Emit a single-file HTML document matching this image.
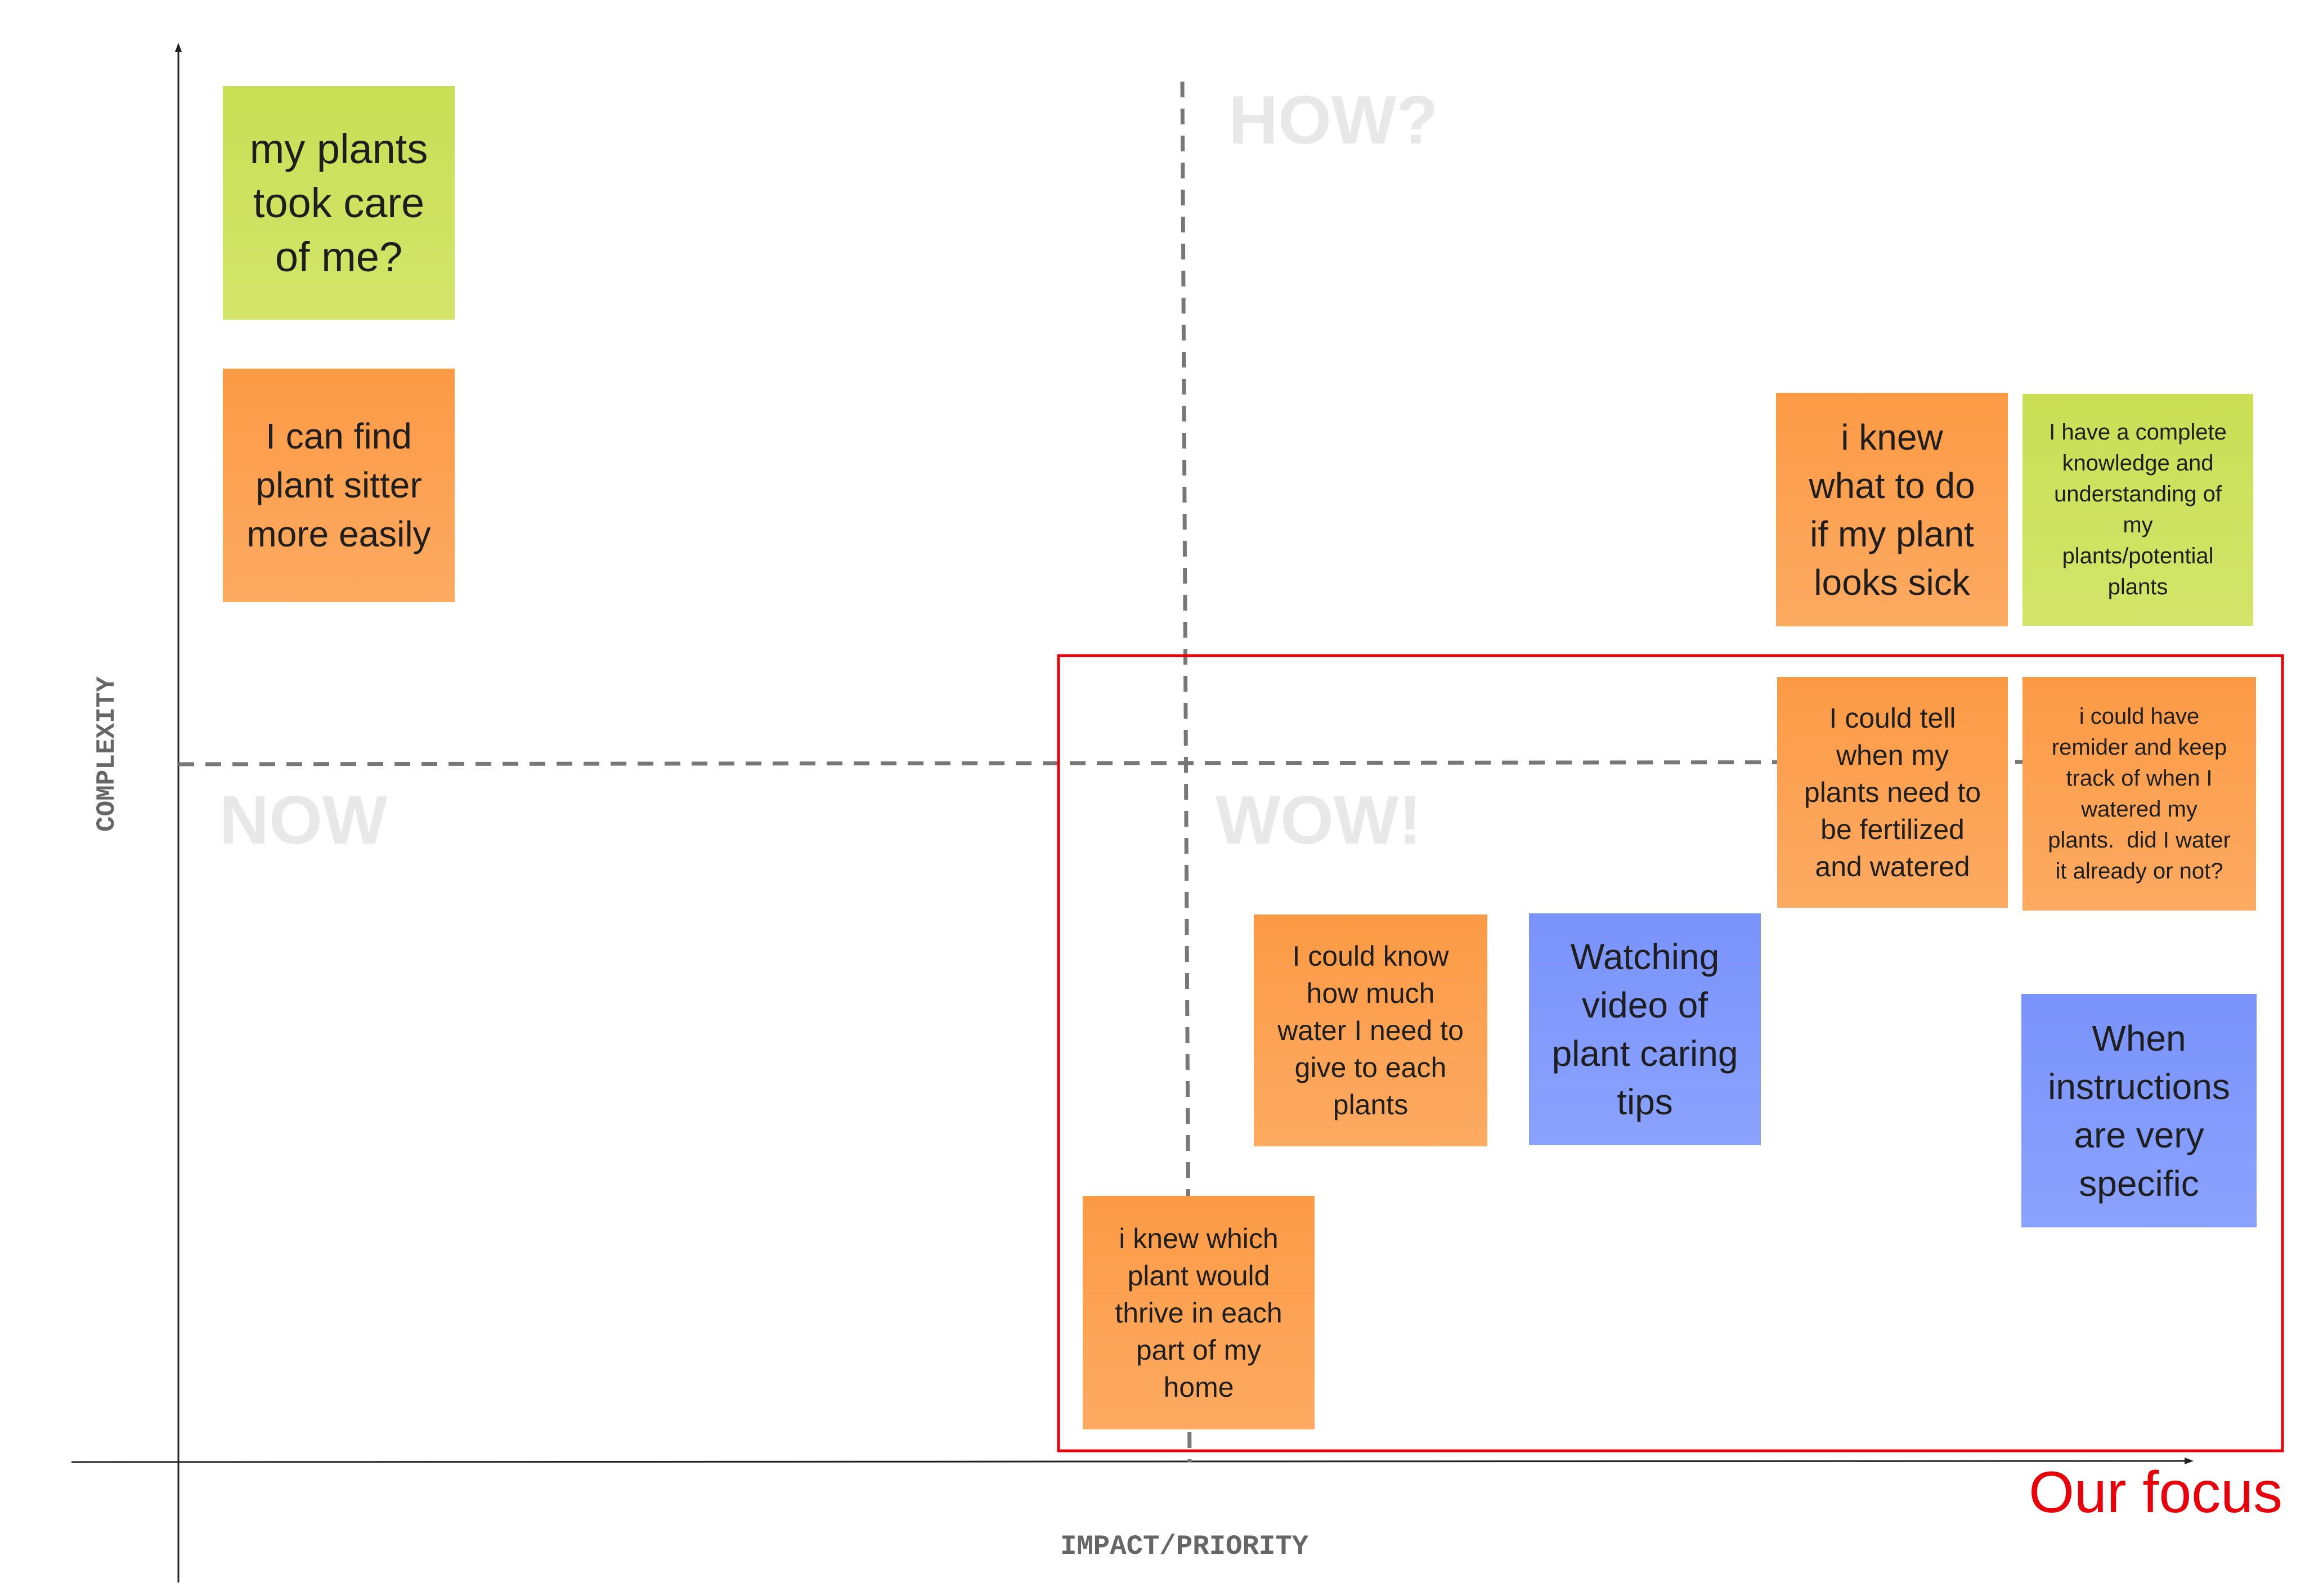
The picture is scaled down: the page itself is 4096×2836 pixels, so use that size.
<!DOCTYPE html>
<html><head><meta charset="utf-8"><style>
html,body{margin:0;padding:0;background:#fff;}
body{width:4096px;height:2836px;position:relative;overflow:hidden;font-family:"Liberation Sans",sans-serif;}
.s{position:absolute;display:flex;align-items:center;justify-content:center;text-align:center;color:#1e1e1e;box-sizing:border-box;padding:10px;}
.s::after{content:"";position:absolute;left:8%;right:8%;bottom:-10px;height:30px;background:rgba(0,0,0,.35);filter:blur(14px);z-index:-1;}
.g{background:linear-gradient(#c9df55,#d2e56a);}
.o{background:linear-gradient(#fb9a45,#fdaa62);}
.b{background:linear-gradient(#7a93fb,#8aa2fc);}
.big{position:absolute;font-weight:bold;color:#e8e8e8;font-size:122px;line-height:1;}
</style></head><body>
<svg width="4096" height="2836" style="position:absolute;left:0;top:0">
<line x1="317" y1="82" x2="317" y2="2812" stroke="#222" stroke-width="3"/>
<polygon points="317,76 311,92 323,92" fill="#222"/>
<line x1="127" y1="2598" x2="3890" y2="2596" stroke="#222" stroke-width="3"/>
<polygon points="3898,2596 3882,2590 3882,2602" fill="#222"/>
<line x1="2101" y1="145" x2="2114" y2="2598" stroke="#777" stroke-width="7" stroke-dasharray="28,20"/>
<line x1="317" y1="1358" x2="3594" y2="1354" stroke="#777" stroke-width="7" stroke-dasharray="28,20"/>
<rect x="1881" y="1165" width="2175" height="1413" fill="none" stroke="#e8000b" stroke-width="5"/>
</svg>
<div class="big" style="left:2183px;top:152px">HOW?</div>
<div class="big" style="left:390px;top:1396px">NOW</div>
<div class="big" style="left:2160px;top:1396px">WOW!</div>
<div style="position:absolute;left:190px;top:1340px;transform:translate(-50%,-50%) rotate(-90deg);font-family:'Liberation Mono',monospace;font-weight:bold;font-size:46px;color:#666;white-space:nowrap">COMPLEXITY</div>
<div style="position:absolute;left:1884px;top:2720px;font-family:'Liberation Mono',monospace;font-weight:bold;font-size:49px;color:#666;white-space:nowrap">IMPACT/PRIORITY</div>
<div style="position:absolute;right:40px;top:2590px;font-size:104px;color:#e8000b;white-space:nowrap;line-height:1.2">Our focus</div>

<div class="s g" style="left:396px;top:153px;width:412px;height:415px;font-size:74px;line-height:96px">my plants<br>took care<br>of me?</div>
<div class="s o" style="left:396px;top:655px;width:412px;height:415px;font-size:64px;line-height:87px">I can find<br>plant sitter<br>more easily</div>
<div class="s o" style="left:3156px;top:698px;width:412px;height:415px;font-size:64px;line-height:86px">i knew<br>what to do<br>if my plant<br>looks sick</div>
<div class="s g" style="left:3594px;top:700px;width:410px;height:412px;font-size:40px;line-height:55px">I have a complete<br>knowledge and<br>understanding of<br>my<br>plants/potential<br>plants</div>
<div class="s o" style="left:3158px;top:1203px;width:410px;height:410px;font-size:50px;line-height:66px">I could tell<br>when my<br>plants need to<br>be fertilized<br>and watered</div>
<div class="s o" style="left:3594px;top:1203px;width:415px;height:415px;font-size:40px;line-height:55px">i could have<br>remider and keep<br>track of when I<br>watered my<br>plants.&nbsp; did I water<br>it already or not?</div>
<div class="s o" style="left:2228px;top:1625px;width:415px;height:412px;font-size:50px;line-height:66px">I could know<br>how much<br>water I need to<br>give to each<br>plants</div>
<div class="s b" style="left:2717px;top:1623px;width:412px;height:412px;font-size:64px;line-height:86px">Watching<br>video of<br>plant caring<br>tips</div>
<div class="s b" style="left:3592px;top:1766px;width:418px;height:415px;font-size:64px;line-height:86px">When<br>instructions<br>are very<br>specific</div>
<div class="s o" style="left:1924px;top:2125px;width:412px;height:415px;font-size:50px;line-height:66px">i knew which<br>plant would<br>thrive in each<br>part of my<br>home</div>
</body></html>
